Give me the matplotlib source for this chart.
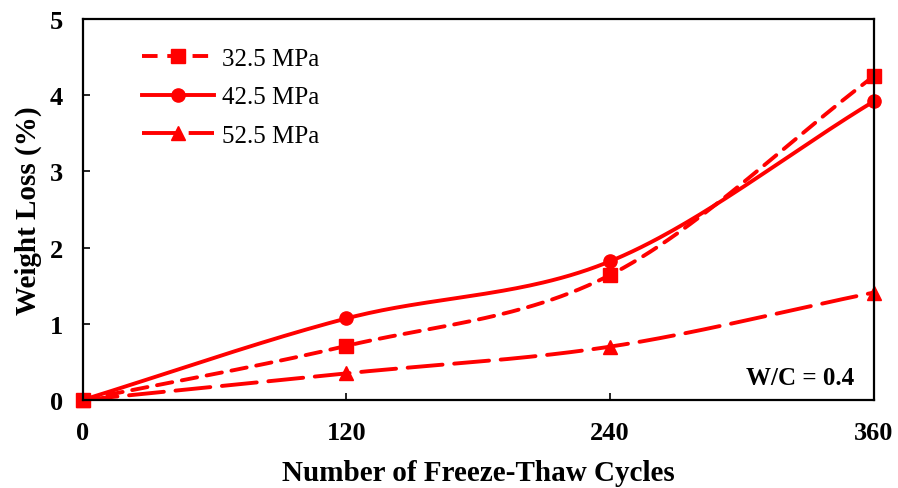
import matplotlib.pyplot as plt
import numpy as np

cycles = [0, 120, 240, 360]
loss_325 = [0.0, 0.71, 1.64, 4.25]
loss_425 = [0.0, 1.07, 1.82, 3.92]
loss_525 = [0.0, 0.35, 0.70, 1.41]


def smooth(x, y, n=60):
    '''catmull-rom style curve like excel smoothed lines'''
    x = np.asarray(x, float)
    y = np.asarray(y, float)
    px = np.concatenate([[2 * x[0] - x[1]], x, [2 * x[-1] - x[-2]]])
    py = np.concatenate([[2 * y[0] - y[1]], y, [2 * y[-1] - y[-2]]])
    xs, ys = [], []
    for i in range(1, len(px) - 2):
        t = np.linspace(0, 1, n)
        for p, out in ((px, xs), (py, ys)):
            p0, p1, p2, p3 = p[i - 1], p[i], p[i + 1], p[i + 2]
            out.extend(0.5 * ((2 * p1) + (-p0 + p2) * t
                              + (2 * p0 - 5 * p1 + 4 * p2 - p3) * t ** 2
                              + (-p0 + 3 * p1 - 3 * p2 + p3) * t ** 3))
    return np.array(xs), np.array(ys)


plt.rcParams['font.family'] = 'Liberation Serif'

fig, ax = plt.subplots(figsize=(8.98, 4.89), dpi=100)
fig.subplots_adjust(left=0.092, right=0.973, top=0.959, bottom=0.18)

series = [
    (loss_325, 's', 9.5, (0, (4, 2.5)), '32.5 MPa'),
    (loss_425, 'o', 9.5, '-', '42.5 MPa'),
    (loss_525, '^', 10.5, (0, (9, 3)), '52.5 MPa'),
]
for vals, mk, ms, ls, lab in series:
    sx, sy = smooth(cycles, vals)
    ax.plot(sx, sy, color='red', lw=2.8, ls=ls, dash_capstyle='round', clip_on=False)
    ax.plot(cycles, vals, color='red', ls='none', marker=mk, ms=ms, clip_on=False)
    ax.plot([], [], color='red', lw=2.8, ls=ls, marker=mk, ms=ms, label=lab)

ax.set_xlim(0, 360)
ax.set_ylim(0, 5)
ax.set_xticks(cycles)
ax.set_yticks(range(6))
ax.tick_params(direction='in', labelsize=19, width=1.2, length=5)
ax.tick_params(axis='x', pad=15)
ax.tick_params(axis='y', pad=14)
for t in ax.get_xticklabels() + ax.get_yticklabels():
    t.set_fontweight('bold')
for s in ax.spines.values():
    s.set_linewidth(1.6)

ax.set_xlabel('Number of Freeze-Thaw Cycles', fontsize=21, fontweight='bold', labelpad=11)
ax.set_ylabel('Weight Loss (%)', fontsize=21, fontweight='bold', labelpad=6)
ax.text(351, 0.3, 'W/C = 0.4', fontsize=18, fontweight='bold', ha='right', va='center')

ax.legend(loc='upper left', bbox_to_anchor=(0.056, 0.965), frameon=False, fontsize=18,
          handlelength=2.9, labelspacing=0.64, handletextpad=0.3, borderaxespad=0.2)

plt.savefig('out.png', dpi=100)
